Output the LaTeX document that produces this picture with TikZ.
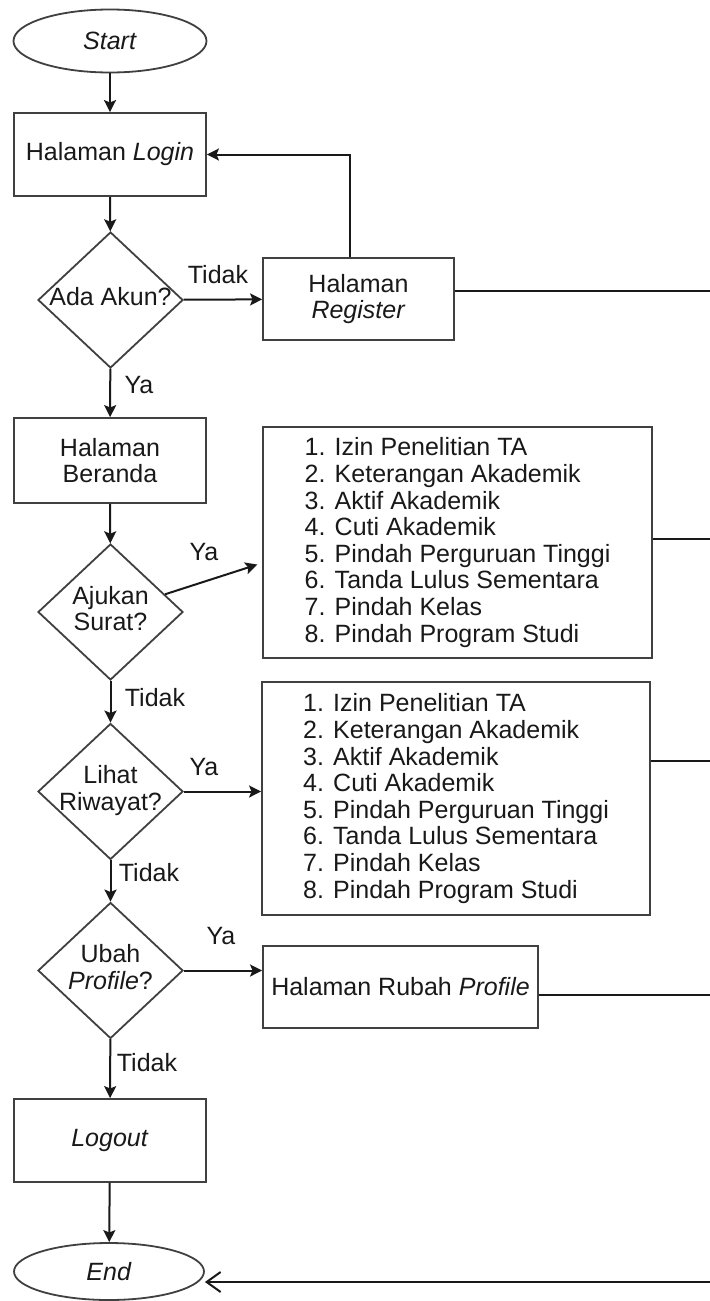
\documentclass[tikz,border=0pt]{standalone}
\usepackage{fontspec}
\setmainfont{Liberation Sans}
\usetikzlibrary{shapes.geometric,arrows.meta}
% two-line text inside a decision diamond, kept from widening the shape
\newcommand{\dlabel}[1]{\makebox[0pt]{\begin{tabular}{@{}c@{}}#1\end{tabular}}}
\begin{document}
\begin{tikzpicture}[x=0.5pt,y=-0.5pt,
  font=\fontsize{12.5}{13.3}\selectfont,
  every node/.style={text=black!90},
  proc/.style={draw=black!75, line width=0.9pt, rectangle, inner sep=0pt, align=center},
  term/.style={draw=black!75, line width=0.9pt, ellipse, inner sep=0pt},
  decision/.style={draw=black!75, line width=0.9pt, diamond, inner sep=0pt,
                   minimum width=72.5pt, minimum height=68pt},
  flow/.style={draw=black!90, line width=1pt, -{Stealth[length=6pt,width=6pt,inset=1.2pt]}},
  link/.style={draw=black!90, line width=1pt},
  lbl/.style={inner sep=0pt}
]
\path[use as bounding box, fill=white] (0,0) rectangle (710,1301);

% main column
\node[term, minimum width=96.5pt, minimum height=31.5pt] (start) at (110,41) {\textit{Start}};
\node[proc, minimum width=96pt, minimum height=41.5pt] (login) at (110,154.5) {Halaman \textit{Login}};
\node[decision] (ada) at (110.5,300) {\dlabel{Ada Akun?}};
\node[proc, minimum width=96pt, minimum height=42.5pt] (beranda) at (110,460.5) {Halaman\\Beranda};
\node[decision] (ajukan) at (110.5,612) {\dlabel{Ajukan\\Surat?}};
\node[decision] (lihat) at (110.5,791.5) {\dlabel{Lihat\\Riwayat?}};
\node[decision] (ubah) at (110.5,970.5) {\dlabel{Ubah\\\textit{Profile}?}};
\node[proc, minimum width=96pt, minimum height=41.5pt] (logout) at (110,1140.5) {\textit{Logout}};
\node[term, minimum width=95pt, minimum height=28.5pt] (end) at (109,1271.5) {\textit{End}};

% side pages
\node[proc, minimum width=95.5pt, minimum height=41pt] (reg) at (358.5,299) {Halaman\\\textit{Register}};
\node[proc, align=left, minimum width=194.5pt, minimum height=115.5pt] (surat) at (457.5,542.5)
  {1. Izin Penelitian TA\\2. Keterangan Akademik\\3. Aktif Akademik\\4. Cuti Akademik\\5. Pindah Perguruan Tinggi\\6. Tanda Lulus Sementara\\7. Pindah Kelas\\8. Pindah Program Studi};
\node[proc, align=left, minimum width=194pt, minimum height=116.5pt] (riwayat) at (456,798.5)
  {1. Izin Penelitian TA\\2. Keterangan Akademik\\3. Aktif Akademik\\4. Cuti Akademik\\5. Pindah Perguruan Tinggi\\6. Tanda Lulus Sementara\\7. Pindah Kelas\\8. Pindah Program Studi};
\node[proc, minimum width=137.5pt, minimum height=41pt] (rubah) at (400.5,987) {Halaman Rubah \textit{Profile}};

% branch labels
\node[lbl] (tAda) at (218,275) {Tidak};
\node[lbl] (yAda) at (139,385) {Ya};
\node[lbl] (yAju) at (204,552) {Ya};
\node[lbl] (tAju) at (155,698) {Tidak};
\node[lbl] (yLih) at (204,767) {Ya};
\node[lbl] (tLih) at (149,873) {Tidak};
\node[lbl] (yUba) at (221,936) {Ya};
\node[lbl] (tUba) at (147,1063) {Tidak};

% lines running off to the right edge
\coordinate (regout) at (710,291);
\coordinate (suratout) at (710,539);
\coordinate (riwayatout) at (710,761);
\coordinate (rubahout) at (710,995);
\coordinate (endin) at (710,1282);

% connectors
\draw[flow] (start) -- (login);
\draw[flow] (login) -- (ada);
\draw[flow] (ada) -- (reg);
\draw[flow] ([xshift=-4.25pt]reg.north) |- (login.east);
\draw[link] (regout -| reg.east) -- (regout);
\draw[flow] (ada) -- (beranda);
\draw[flow] (beranda) -- (ajukan);
\draw[flow, shorten >=2.5pt] (ajukan.18) -- ([yshift=-10.25pt]surat.west);
\draw[link] (suratout -| surat.east) -- (suratout);
\draw[flow] (ajukan) -- (lihat);
\draw[flow] (lihat.east) -- (lihat.east -| riwayat.west);
\draw[link] (riwayatout -| riwayat.east) -- (riwayatout);
\draw[flow] (lihat) -- (ubah);
\draw[flow] (ubah.east) -- (ubah.east -| rubah.west);
\draw[link] (rubahout -| rubah.east) -- (rubahout);
\draw[flow] (ubah) -- (logout);
\draw[flow] (logout) -- (end);
\draw[link, -{Straight Barb[length=7pt,width=10pt]}] (endin) -- (endin -| end.east);
\end{tikzpicture}
\end{document}
